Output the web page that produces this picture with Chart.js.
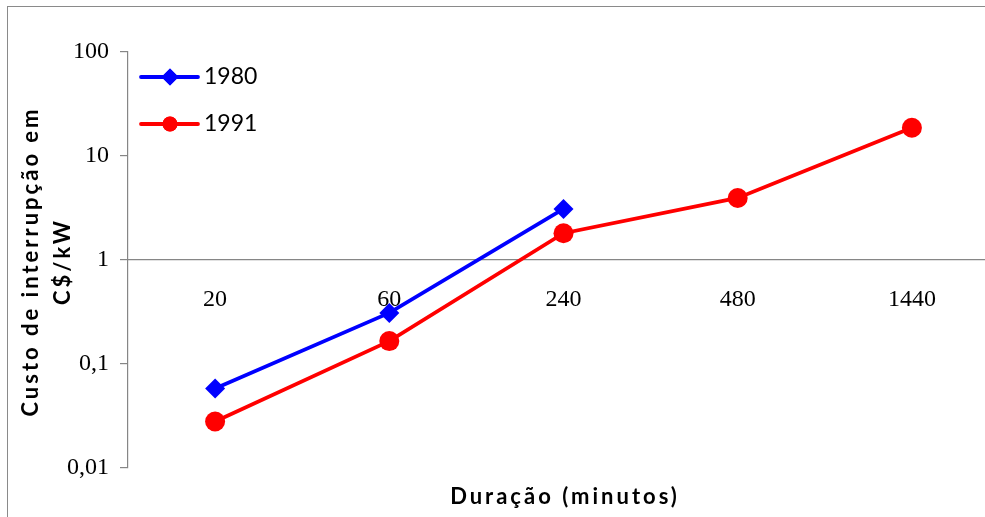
<!DOCTYPE html>
<html>
<head>
<meta charset="utf-8">
<script src="https://cdn.jsdelivr.net/npm/chart.js@4/dist/chart.umd.min.js"></script>
<style>
  html, body { margin: 0; padding: 0; background: #fff; overflow: hidden; width: 985px; height: 517px; }
  #frame { position: absolute; left: 7px; top: 6px; width: 1100px; height: 600px;
           border-left: 1.5px solid #8a8a8a; border-top: 1.5px solid #8a8a8a; }
  #wrap { position: absolute; left: 0; top: 0; }
</style>
</head>
<body>
<div id="frame"></div>
<div id="wrap"><canvas id="c" width="1010" height="517"></canvas></div>
<script>
// Interruption duration categories (minutes)
const durations = ['20', '60', '240', '480', '1440'];
// Interruption cost, C$/kW
const cost1980 = [0.058, 0.31, 3.1, null, null];
const cost1991 = [0.028, 0.166, 1.81, 3.95, 18.7];
const seriesNames = ['1980', '1991'];
// Decade ticks of the logarithmic axis and their labels
const yTickValues = [0.01, 0.1, 1, 10, 100];
const yTickLabels = ['0,01', '0,1', '1', '10', '100'];
const xTitle = 'Duração (minutos)';
const yTitleLines = ['Custo de interrupção em', 'C$/kW'];

const AXIS_GRAY = '#868686';
const SERIF = "'Liberation Serif', 'Times New Roman', serif";
const SANS = "Lato, 'Open Sans', sans-serif";

// Axis titles with letter spacing
const axisTitles = {
  id: 'axisTitles',
  afterDraw(chart) {
    const { ctx, chartArea } = chart;
    ctx.save();
    ctx.fillStyle = '#000';
    ctx.font = 'bold 22px ' + SANS;
    if ('letterSpacing' in ctx) ctx.letterSpacing = '3px';
    ctx.textAlign = 'center';
    ctx.textBaseline = 'middle';
    ctx.fillText(xTitle, (chartArea.left + chartArea.right) / 2 + 1.5, 497);
    ctx.translate(31, (chartArea.top + chartArea.bottom) / 2 + 3);
    ctx.rotate(-Math.PI / 2);
    yTitleLines.forEach((line, i) => ctx.fillText(line, 1.5, i * 32));
    ctx.restore();
  }
};

// Legend drawn as line segment + marker, inside the plot
const lineLegend = {
  id: 'lineLegend',
  afterDatasetsDraw(chart) {
    const { ctx } = chart;
    const rows = [77, 124];
    chart.data.datasets.forEach((ds, i) => {
      const y = rows[i];
      ctx.save();
      ctx.strokeStyle = ds.borderColor;
      ctx.lineWidth = ds.borderWidth;
      ctx.lineCap = 'round';
      ctx.beginPath();
      ctx.moveTo(141, y);
      ctx.lineTo(198, y);
      ctx.stroke();
      ctx.restore();
      ctx.save();
      ctx.fillStyle = ds.pointBackgroundColor;
      ctx.beginPath();
      Chart.helpers.drawPoint(ctx, {
        pointStyle: ds.pointStyle,
        radius: ds.pointStyle === 'circle' ? 7.5 : 8.5,
        borderWidth: 0,
        rotation: 0
      }, 170, y);
      ctx.fill();
      ctx.restore();
      ctx.save();
      ctx.fillStyle = '#000';
      ctx.font = '23px ' + SANS;
      ctx.textAlign = 'left';
      ctx.textBaseline = 'middle';
      ctx.fillText(ds.label, 204, y);
      ctx.restore();
    });
  }
};

new Chart(document.getElementById('c'), {
  type: 'line',
  data: {
    labels: durations,
    datasets: [
      {
        label: seriesNames[0],
        data: cost1980,
        borderColor: '#0000ff',
        backgroundColor: '#0000ff',
        pointBackgroundColor: '#0000ff',
        pointBorderColor: '#0000ff',
        pointStyle: 'rectRot',
        pointRadius: 10,
        pointBorderWidth: 0,
        borderWidth: 3.8,
        tension: 0,
        spanGaps: false
      },
      {
        label: seriesNames[1],
        data: cost1991,
        borderColor: '#ff0000',
        backgroundColor: '#ff0000',
        pointBackgroundColor: '#ff0000',
        pointBorderColor: '#ff0000',
        pointStyle: 'circle',
        pointRadius: 10,
        pointBorderWidth: 0,
        borderWidth: 3.8,
        tension: 0
      }
    ]
  },
  options: {
    responsive: false,
    animation: false,
    events: [],
    layout: { padding: { left: 0, top: 52, right: 11, bottom: 49 } },
    plugins: {
      legend: { display: false },
      tooltip: { enabled: false }
    },
    scales: {
      x: {
        type: 'category',
        position: { y: 1 },
        offset: true,
        grid: { display: true, drawOnChartArea: false, drawTicks: false, color: AXIS_GRAY },
        border: { display: true, color: AXIS_GRAY, width: 1.2 },
        ticks: {
          color: '#000',
          padding: 25,
          maxRotation: 0,
          autoSkip: false,
          font: { family: SERIF, size: 24 }
        }
      },
      y: {
        type: 'logarithmic',
        min: yTickValues[0],
        max: yTickValues[yTickValues.length - 1],
        afterFit(scale) { scale.width = 128; },
        afterBuildTicks(scale) {
          scale.ticks = yTickValues.map(v => ({ value: v }));
        },
        grid: { display: true, drawOnChartArea: false, drawTicks: true, tickLength: 8, color: AXIS_GRAY, lineWidth: 1.2 },
        border: { display: true, color: AXIS_GRAY, width: 1.2 },
        ticks: {
          color: '#000',
          padding: 11,
          autoSkip: false,
          font: { family: SERIF, size: 24 },
          callback(value) {
            const i = yTickValues.findIndex(v => Math.abs(v - value) < v * 1e-6);
            return i >= 0 ? yTickLabels[i] : '';
          }
        }
      }
    }
  },
  plugins: [axisTitles, lineLegend]
});
</script>
</body>
</html>
